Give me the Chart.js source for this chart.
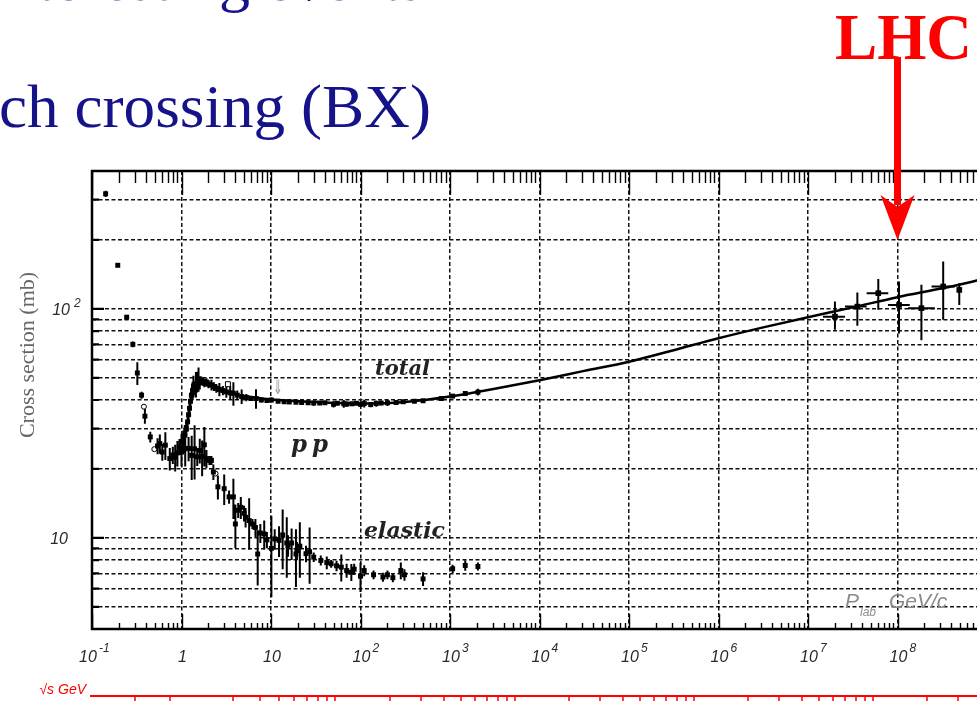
<!DOCTYPE html>
<html>
<head>
<meta charset="utf-8">
<script src="https://cdn.jsdelivr.net/npm/chart.js@4.4.1/dist/chart.umd.min.js"></script>
<style>
  html, body { margin: 0; padding: 0; background: #fff; overflow: hidden; }
  #wrap { position: relative; width: 977px; height: 701px; overflow: hidden; }
  canvas { position: absolute; left: 0; top: 0; }
</style>
</head>
<body>
<div id="wrap"><canvas id="xsec" width="1000" height="701"></canvas></div>
<script>
// pp total cross section (mb) vs beam momentum P_lab (GeV/c)
const totalP = [0.142, 0.194, 0.244, 0.286, 0.321, 0.358, 0.39, 0.448, 0.54, 0.573,
  0.61, 0.66, 0.74, 0.8, 0.85, 0.9, 0.95, 1.0, 1.05, 1.09,
  1.13, 1.17, 1.2, 1.23, 1.26, 1.29, 1.33, 1.36, 1.4, 1.45,
  1.5, 1.55, 1.6, 1.67, 1.75, 1.8, 1.9, 2.0, 2.16, 2.3,
  2.45, 2.65, 2.9, 3.17, 3.5, 3.8, 4.2, 4.7, 5.3, 6.0,
  6.8, 7.8, 9.0, 10.1, 12, 14, 16, 19, 22, 26,
  30, 35, 40, 50, 55, 65, 70, 80, 90, 100,
  110, 130, 150, 170, 200, 250, 300, 400, 500, 800,
  1070, 1480, 2050];
const totalSigma = [318, 155, 92, 70, 52.5, 42, 34, 27.6, 25.2, 25.8,
  23.7, 25.4, 22.2, 23, 22.5, 23.5, 25, 24.5, 26.5, 28.1,
  30, 32.1, 34.5, 36.8, 39.5, 42, 44, 46, 45, 47,
  48.1, 49.5, 47.5, 48.6, 48, 47.5, 47.8, 47, 46.5, 45.8,
  45, 44.5, 44, 43.4, 43, 42.8, 42, 41.4, 41, 40.6,
  40.6, 40, 39.8, 40, 39.5, 39.3, 39.2, 39.1, 39.0, 38.9,
  38.8, 38.8, 38.9, 38.3, 38.7, 38.5, 38.4, 38.5, 38.7, 38.3,
  38.6, 38.2, 38.6, 38.8, 38.9, 39, 39.3, 39.5, 39.7, 40.6,
  41.6, 42.7, 43.3];
const totalErr = [10, 3, 2, 2, 6, 1.5, 2.5, 1.5, 2, 2.5,
  2, 3.5, 2.5, 2, 3, 3, 2, 4, 3, 3,
  2.5, 3, 3, 3, 3, 3, 4, 5, 3, 6,
  5, 6, 3, 2, 2, 2, 2, 2, 2.5, 2,
  2, 3, 2, 2.5, 3, 5, 2, 3, 1.5, 1,
  4, 1, 0.8, 1, 0.5, 0.5, 0.6, 0.6, 0.8, 0.8,
  1, 0.6, 0.5, 1.2, 0.6, 1.5, 1, 0.8, 0.4, 1,
  1.5, 1, 1.2, 0.9, 1.2, 0.6, 0.6, 0.5, 0.5, 0.6,
  0.8, 0.7, 1.5];

// pp elastic cross section (mb)
const elasticP = [1.0, 1.1, 1.2, 1.3, 1.4, 1.5, 1.6, 1.7, 1.8, 1.9,
  2.05, 2.16, 2.27, 2.55, 3.0, 3.4, 3.8, 4.0, 4.3, 4.6,
  5.0, 5.2, 5.7, 6.2, 6.7, 7.1, 7.6, 8.4, 9.0, 10.1,
  11, 12.3, 13.5, 15.0, 15.5, 17, 19.0, 19.5, 21, 24.6,
  27, 30, 36, 42, 47, 54, 61, 70, 79, 85,
  100, 110, 140, 178, 200, 230, 282, 310, 500, 1070,
  1480, 2050];
const elasticSigma = [23.7, 24.5, 24.6, 22.9, 24.5, 22.6, 24.1, 22.6, 25.5, 22.2,
  21.8, 21.8, 19.4, 16.7, 16.4, 15.1, 15.1, 11.5, 13.2, 13.6,
  12.8, 12.3, 11.9, 11.5, 11.1, 8.5, 10.5, 10.4, 9.8, 9.0,
  9.9, 9.75, 10.3, 9.5, 9.27, 9.5, 8.5, 8.8, 9.2, 8.53,
  8.7, 8.24, 7.97, 7.8, 7.71, 7.55, 7.45, 7.2, 7.08, 7.3,
  6.8, 7.2, 6.9, 6.74, 6.9, 6.7, 7.2, 6.9, 6.62, 7.33,
  7.58, 7.5];
const elasticErr = [3, 4, 3, 5, 6.5, 2, 3, 4, 5, 2,
  1, 1, 1.5, 2, 2.5, 1, 3, 2.5, 1, 1.5,
  1, 1.2, 3, 0.6, 1, 2.3, 1, 1.5, 0.8, 3.5,
  1, 1.5, 3, 2.8, 1, 1.5, 2.4, 0.8, 2.5, 0.7,
  2.4, 0.4, 0.4, 0.5, 0.3, 0.4, 1.0, 0.5, 0.6, 0.4,
  1.0, 0.4, 0.3, 0.3, 0.3, 0.3, 0.6, 0.4, 0.45, 0.3,
  0.4, 0.3];

// open markers
const openCircleP = [0.38, 0.497, 2.4];
const openCircleSigma = [37.4, 24.4, 19.1];
const openSquareP = [3.3];
const openSquareSigma = [46.9];

// cosmic-ray points, asymmetric bars in both directions
const cosmicP = [2.0e7, 3.56e7, 6.1e7, 1.04e8, 1.85e8, 3.24e8, 4.9e8];
const cosmicSigma = [92.5, 102.3, 117.1, 104, 100.7, 125.2, 121];
const cosmicLo = [81, 84.4, 99, 78, 73, 89.6, 104];
const cosmicHi = [107.6, 117.8, 135, 131.6, 127.3, 161, 129.5];
const cosmicPLo = [1.47e7, 2.59e7, 4.52e7, 7.82e7, 1.31e8, 2.4e8, 4.9e8];
const cosmicPHi = [2.59e7, 4.52e7, 7.89e7, 1.37e8, 2.61e8, 4.37e8, 4.9e8];

// fitted total cross section
const fitP = [5, 10, 31.6, 100, 316, 1e3, 3.16e3, 1e4, 3.16e4, 1e5,
  3.16e5, 1e6, 3.16e6, 1e7, 3.16e7, 1e8, 3.16e8, 1e9];
const fitSigma = [41.6, 40.2, 39.2, 38.6, 39.2, 41.4, 44.8, 48.8, 53.6, 58.8,
  66, 74.4, 83, 92, 101.5, 112.5, 123, 136];

// axes
const xExponents = [-1, 0, 1, 2, 3, 4, 5, 6, 7, 8];
const yGrid = [5, 6, 7, 8, 9, 10, 20, 30, 40, 50, 60, 70, 80, 90, 100, 200, 300];
const sqrtSTicks = [1.9, 2, 3, 4, 5, 6, 7, 8, 9, 10, 20, 30, 40, 50, 60, 70, 80, 90,
  100, 200, 300, 400, 500, 600, 700, 800, 900, 1000, 2000, 3000, 4000, 5000, 6000,
  7000, 8000, 9000, 10000, 20000, 30000, 40000];
const lhcMomentum = 1e8;
const lhcArrowTip = 200;
const protonMass = 0.938;

function pts(xs, ys) { return xs.map((x, i) => ({ x: x, y: ys[i] })); }

function pLabFromSqrtS(rs) {
  const s = rs * rs;
  const e = (s - 2 * protonMass * protonMass) / (2 * protonMass);
  return Math.sqrt(Math.max(e * e - protonMass * protonMass, 1e-6));
}

function fitText(ctx, text, x, y, width, font, color) {
  ctx.save();
  ctx.font = font;
  ctx.fillStyle = color;
  ctx.textAlign = 'left';
  ctx.textBaseline = 'alphabetic';
  const w = ctx.measureText(text).width;
  ctx.translate(x, y);
  ctx.scale(width / w, 1);
  ctx.fillText(text, 0, 0);
  ctx.restore();
}

const decorations = {
  id: 'decorations',
  beforeDatasetsDraw(chart) {
    const { ctx, scales: { x, y } } = chart;
    ctx.save();
    ctx.strokeStyle = '#000';
    ctx.lineWidth = 2;
    ctx.beginPath();
    const bars = (ps, ss, es) => ps.forEach((p, i) => {
      const px = x.getPixelForValue(p);
      ctx.moveTo(px, y.getPixelForValue(Math.max(ss[i] - es[i], 4.01)));
      ctx.lineTo(px, y.getPixelForValue(ss[i] + es[i]));
    });
    bars(totalP, totalSigma, totalErr);
    bars(elasticP, elasticSigma, elasticErr);
    cosmicP.forEach((p, i) => {
      const px = x.getPixelForValue(p), py = y.getPixelForValue(cosmicSigma[i]);
      ctx.moveTo(px, y.getPixelForValue(cosmicLo[i]));
      ctx.lineTo(px, y.getPixelForValue(cosmicHi[i]));
      ctx.moveTo(x.getPixelForValue(cosmicPLo[i]), py);
      ctx.lineTo(x.getPixelForValue(cosmicPHi[i]), py);
    });
    ctx.stroke();
    ctx.restore();
  },
  afterDraw(chart) {
    const { ctx, chartArea: a, scales: { x, y } } = chart;
    ctx.save();

    // frame
    ctx.strokeStyle = '#000';
    ctx.lineWidth = 2.5;
    ctx.beginPath();
    ctx.moveTo(a.right, a.top);
    ctx.lineTo(a.left, a.top);
    ctx.lineTo(a.left, a.bottom);
    ctx.lineTo(a.right, a.bottom);
    ctx.stroke();

    // inward ticks
    ctx.lineWidth = 1.4;
    ctx.beginPath();
    xExponents.concat([9]).forEach(d => {
      for (let k = 1; k <= 9; k++) {
        const v = k * Math.pow(10, d);
        if (v > 1e9) break;
        const px = Math.round(x.getPixelForValue(v)) + 0.5;
        const major = k === 1;
        ctx.moveTo(px, a.top);
        ctx.lineTo(px, a.top + (major ? 24 : 12));
        ctx.moveTo(px, a.bottom);
        ctx.lineTo(px, a.bottom - (major ? 15 : 6));
      }
    });
    ctx.stroke();
    ctx.lineWidth = 2.2;
    ctx.beginPath();
    yGrid.forEach(v => {
      const py = y.getPixelForValue(v);
      const major = v === 10 || v === 100;
      ctx.moveTo(a.left, py);
      ctx.lineTo(a.left + (major ? 12 : 7), py);
    });
    ctx.stroke();

    // x tick labels
    ctx.fillStyle = '#2a2a2a';
    ctx.textBaseline = 'alphabetic';
    xExponents.forEach(d => {
      const px = x.getPixelForValue(Math.pow(10, d));
      ctx.font = 'italic 16px "Liberation Sans"';
      if (d === 0 || d === 1) {
        ctx.textAlign = 'center';
        ctx.fillText(d === 0 ? '1' : '10', px + 1, 662);
        return;
      }
      ctx.textAlign = 'left';
      const bw = ctx.measureText('10').width;
      const bx = px - bw / 2 + (d < 0 ? -4 : 1);
      ctx.fillText('10', bx, 662);
      ctx.font = 'italic 12px "Liberation Sans"';
      ctx.fillText(String(d), bx + bw + 2, 652);
    });

    // y tick labels
    ctx.textAlign = 'right';
    ctx.font = 'italic 16px "Liberation Sans"';
    const y100 = y.getPixelForValue(100), y10 = y.getPixelForValue(10);
    ctx.fillText('10', 70, y100 + 6);
    ctx.fillText('10', 68, y10 + 6);
    ctx.textAlign = 'left';
    ctx.font = 'italic 12px "Liberation Sans"';
    ctx.fillText('2', 74, y100 - 2);

    // y title
    ctx.save();
    ctx.translate(34, 355);
    ctx.rotate(-Math.PI / 2);
    ctx.textAlign = 'center';
    ctx.fillStyle = '#666';
    ctx.font = '22px "Liberation Serif"';
    ctx.fillText('Cross section (mb)', 0, 0);
    ctx.restore();

    // curve labels
    fitText(ctx, 'total', 375, 375, 55, 'bold italic 20px "DejaVu Serif"', '#222');
    fitText(ctx, 'p', 291, 452, 16, 'bold italic 25px "DejaVu Serif"', '#222');
    fitText(ctx, 'p', 312, 452, 16, 'bold italic 25px "DejaVu Serif"', '#222');
    fitText(ctx, 'elastic', 364, 537, 81, 'bold italic 20px "DejaVu Serif"', '#222');
    fitText(ctx, '\u21D3', 273, 394, 10, '20px "DejaVu Sans"', '#999');

    // momentum axis name
    ctx.fillStyle = '#8a8a8a';
    ctx.textAlign = 'left';
    ctx.font = 'italic 21px "Liberation Sans"';
    ctx.fillText('P', 845, 608);
    ctx.font = 'italic 12px "Liberation Sans"';
    ctx.fillText('lab', 860, 616);
    ctx.font = 'italic 21px "Liberation Sans"';
    ctx.fillText('GeV/c', 889, 608);

    // sqrt(s) axis
    ctx.strokeStyle = '#ff0000';
    ctx.fillStyle = '#ff0000';
    ctx.lineWidth = 2;
    ctx.beginPath();
    ctx.moveTo(90, 696);
    ctx.lineTo(1000, 696);
    ctx.stroke();
    ctx.lineWidth = 1.5;
    ctx.beginPath();
    sqrtSTicks.forEach(rs => {
      const px = Math.round(x.getPixelForValue(pLabFromSqrtS(rs)));
      ctx.moveTo(px, 696);
      ctx.lineTo(px, 701);
    });
    ctx.stroke();
    ctx.textAlign = 'right';
    ctx.font = 'italic 14px "Liberation Sans"';
    ctx.fillText('\u221As GeV', 86, 694);

    // slide heading
    ctx.textAlign = 'right';
    ctx.fillStyle = '#16138a';
    ctx.font = '62px "Liberation Serif"';
    ctx.fillText('interesting events', 424, 0);
    fitText(ctx, 'ch crossing (BX)', -1, 127, 432, '62px "Liberation Serif"', '#16138a');

    // LHC marker
    const lx = x.getPixelForValue(lhcMomentum);
    const tip = y.getPixelForValue(lhcArrowTip);
    fitText(ctx, 'LHC', 835, 59, 137, 'bold 66px "Liberation Serif"', '#ff0000');
    ctx.fillStyle = '#ff0000';
    ctx.fillRect(lx - 3.5, 57, 7, tip - 57 - 35);
    ctx.beginPath();
    ctx.moveTo(lx - 17, tip - 45);
    ctx.lineTo(lx, tip);
    ctx.lineTo(lx + 17, tip - 45);
    ctx.lineTo(lx, tip - 33);
    ctx.closePath();
    ctx.fill();

    ctx.restore();
  }
};

const gridStyle = { color: '#111', lineWidth: 1.5, drawTicks: false };
const borderStyle = { display: false, dash: [4, 2.5] };

new Chart(document.getElementById('xsec'), {
  type: 'scatter',
  data: {
    datasets: [
      {
        label: 'fit',
        data: pts(fitP, fitSigma),
        showLine: true,
        borderColor: '#000',
        borderWidth: 2.5,
        pointRadius: 0,
        cubicInterpolationMode: 'monotone'
      },
      {
        label: 'total',
        data: pts(totalP, totalSigma),
        pointStyle: 'rect',
        pointRadius: 3.5,
        backgroundColor: '#000',
        borderWidth: 0
      },
      {
        label: 'elastic',
        data: pts(elasticP, elasticSigma),
        pointStyle: 'rect',
        pointRadius: 3.5,
        backgroundColor: '#000',
        borderWidth: 0
      },
      {
        label: 'cosmic',
        data: pts(cosmicP, cosmicSigma),
        pointStyle: 'rect',
        pointRadius: 4,
        backgroundColor: '#000',
        borderWidth: 0
      },
      {
        label: 'open circles',
        data: pts(openCircleP, openCircleSigma),
        pointStyle: 'circle',
        pointRadius: 2.5,
        backgroundColor: '#fff',
        borderColor: '#000',
        borderWidth: 1
      },
      {
        label: 'open squares',
        data: pts(openSquareP, openSquareSigma),
        pointStyle: 'rect',
        pointRadius: 3.5,
        backgroundColor: '#fff',
        borderColor: '#000',
        borderWidth: 1
      }
    ]
  },
  options: {
    responsive: false,
    animation: false,
    events: [],
    layout: { padding: { left: 92, top: 171, right: 13, bottom: 72 } },
    plugins: { legend: { display: false }, tooltip: { enabled: false } },
    scales: {
      x: {
        type: 'logarithmic',
        min: 0.1,
        max: 1e9,
        afterBuildTicks: axis => {
          axis.ticks = xExponents.slice(1).map(d => ({ value: Math.pow(10, d) }));
        },
        ticks: { display: false },
        grid: gridStyle,
        border: borderStyle
      },
      y: {
        type: 'logarithmic',
        min: 4,
        max: 400,
        afterBuildTicks: axis => {
          axis.ticks = yGrid.map(v => ({ value: v }));
        },
        ticks: { display: false },
        grid: gridStyle,
        border: borderStyle
      }
    }
  },
  plugins: [decorations]
});
</script>
</body>
</html>
